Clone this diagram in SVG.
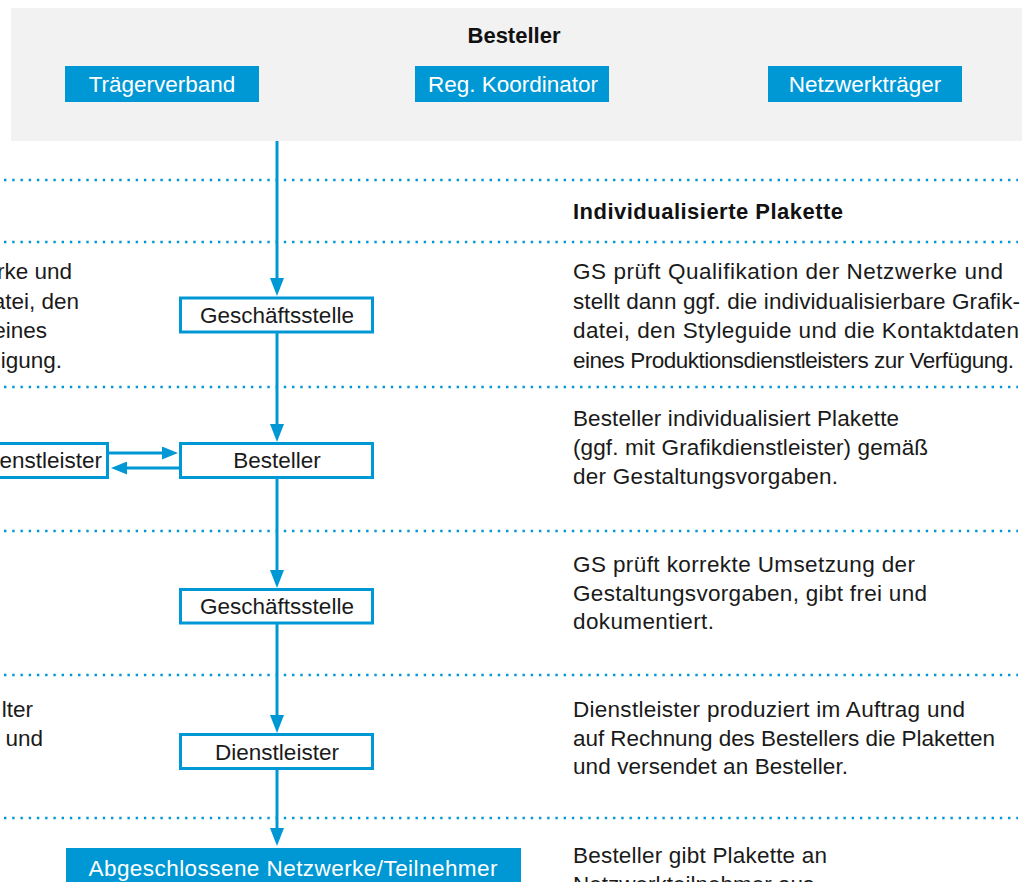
<svg xmlns="http://www.w3.org/2000/svg" width="1022" height="882" viewBox="0 0 1022 882">
<style>
  .t{font-family:"Liberation Sans",Arial,sans-serif;fill:#1a1a1a;font-size:22.5px}
  .b{font-family:"Liberation Sans",Arial,sans-serif;fill:#111;font-size:22px;font-weight:bold}
  .lbl{font-family:"Liberation Sans",Arial,sans-serif;fill:#1a1a1a;font-size:22.5px;text-anchor:middle}
  .wl{font-family:"Liberation Sans",Arial,sans-serif;fill:#ffffff;font-size:22.5px;text-anchor:middle}
  .fill{fill:#0098d4}
  .box{fill:#ffffff;stroke:#0098d4;stroke-width:3}
  .conn{stroke:#0098d4;stroke-width:3;fill:none}
  .dot{stroke:#0098d4;stroke-width:2.4;stroke-dasharray:2.4 5.83;fill:none}
  .end{text-anchor:end}
</style>
<defs>
  <marker id="ah" viewBox="0 0 18 14" refX="8" refY="7" markerWidth="18" markerHeight="14" markerUnits="userSpaceOnUse" orient="auto">
    <path d="M0,0 L18,7 L0,14 z" fill="#0098d4"/>
  </marker>
  <marker id="ahs" viewBox="0 0 16 13" refX="7" refY="6.5" markerWidth="16" markerHeight="13" markerUnits="userSpaceOnUse" orient="auto">
    <path d="M0,0 L16,6.5 L0,13 z" fill="#0098d4"/>
  </marker>
</defs>

<g id="header">
  <rect x="11" y="8" width="1020" height="133" fill="#f2f2f2"/>
  <text class="b" x="514" y="43" text-anchor="middle">Besteller</text>
</g>
<g id="traegerverband">
  <rect class="fill" x="65" y="66" width="194" height="36"/>
  <text class="wl" x="162" y="92">Trägerverband</text>
</g>
<g id="reg-koordinator">
  <rect class="fill" x="415" y="66" width="194" height="36"/>
  <text class="wl" x="513" y="92">Reg. Koordinator</text>
</g>
<g id="netzwerktraeger">
  <rect class="fill" x="768" y="66" width="194" height="36"/>
  <text class="wl" x="865" y="92">Netzwerkträger</text>
</g>

<g id="separators">
  <line class="dot" x1="4" y1="180" x2="1018" y2="180"/>
  <line class="dot" x1="4" y1="242" x2="1018" y2="242"/>
  <line class="dot" x1="4" y1="387" x2="1018" y2="387"/>
  <line class="dot" x1="4" y1="531" x2="1018" y2="531"/>
  <line class="dot" x1="4" y1="675" x2="1018" y2="675"/>
  <line class="dot" x1="4" y1="818" x2="1018" y2="818"/>
</g>

<g id="connectors">
  <line class="conn" x1="277" y1="141" x2="277" y2="286" marker-end="url(#ah)"/>
  <line class="conn" x1="277" y1="333" x2="277" y2="432" marker-end="url(#ah)"/>
  <line class="conn" x1="277" y1="479" x2="277" y2="578" marker-end="url(#ah)"/>
  <line class="conn" x1="277" y1="624" x2="277" y2="723" marker-end="url(#ah)"/>
  <line class="conn" x1="277" y1="770" x2="277" y2="836" marker-end="url(#ah)"/>
  <line class="conn" x1="109" y1="453" x2="169" y2="453" marker-end="url(#ahs)"/>
  <line class="conn" x1="179" y1="468" x2="120" y2="468" marker-end="url(#ahs)"/>
</g>

<g id="geschaeftsstelle-1">
  <rect class="box" x="180.5" y="298" width="192" height="34"/>
  <text class="lbl" x="277" y="323">Geschäftsstelle</text>
</g>
<g id="besteller">
  <rect class="box" x="180.5" y="443.5" width="192" height="34"/>
  <text class="lbl" x="277" y="468">Besteller</text>
</g>
<g id="grafikdienstleister">
  <rect class="box" x="-100" y="443.5" width="207.5" height="34"/>
  <text class="lbl end" x="102" y="468" style="text-anchor:end">enstleister</text>
</g>
<g id="geschaeftsstelle-2">
  <rect class="box" x="180.5" y="589.5" width="192" height="33.5"/>
  <text class="lbl" x="277" y="614">Geschäftsstelle</text>
</g>
<g id="dienstleister">
  <rect class="box" x="180.5" y="734.5" width="192" height="34"/>
  <text class="lbl" x="277" y="760">Dienstleister</text>
</g>
<g id="abgeschlossene">
  <rect class="fill" x="66" y="848" width="455" height="40"/>
  <text class="wl" x="293" y="876" textLength="409" lengthAdjust="spacing">Abgeschlossene Netzwerke/Teilnehmer</text>
</g>

<g id="left-column">
  <text class="t end" x="72" y="279">rke und</text>
  <text class="t end" x="79" y="308.5">atei, den</text>
  <text class="t end" x="47" y="338">eines</text>
  <text class="t end" x="62" y="367.5">igung.</text>
  <text class="t end" x="33" y="717">lter</text>
  <text class="t end" x="43" y="745.5">und</text>
</g>

<g id="right-column">
  <text class="b" x="573" y="219" textLength="270" lengthAdjust="spacing">Individualisierte Plakette</text>
  <text class="t" x="573" y="279" textLength="430" lengthAdjust="spacing">GS prüft Qualifikation der Netzwerke und</text>
  <text class="t" x="573" y="308.5" textLength="447" lengthAdjust="spacing">stellt dann ggf. die individualisierbare Grafik-</text>
  <text class="t" x="573" y="338" textLength="446" lengthAdjust="spacing">datei, den Styleguide und die Kontaktdaten</text>
  <text class="t" x="573" y="367.5" textLength="441" lengthAdjust="spacing">eines Produktionsdienstleisters zur Verfügung.</text>

  <text class="t" x="573" y="426" textLength="326" lengthAdjust="spacing">Besteller individualisiert Plakette</text>
  <text class="t" x="573" y="455" textLength="355" lengthAdjust="spacing">(ggf. mit Grafikdienstleister) gemäß</text>
  <text class="t" x="573" y="483.5" textLength="265" lengthAdjust="spacing">der Gestaltungsvorgaben.</text>

  <text class="t" x="573" y="572" textLength="342" lengthAdjust="spacing">GS prüft korrekte Umsetzung der</text>
  <text class="t" x="573" y="600.5" textLength="354" lengthAdjust="spacing">Gestaltungsvorgaben, gibt frei und</text>
  <text class="t" x="573" y="629" textLength="141" lengthAdjust="spacing">dokumentiert.</text>

  <text class="t" x="573" y="717" textLength="392" lengthAdjust="spacing">Dienstleister produziert im Auftrag und</text>
  <text class="t" x="573" y="745.5" textLength="422" lengthAdjust="spacing">auf Rechnung des Bestellers die Plaketten</text>
  <text class="t" x="573" y="774" textLength="275" lengthAdjust="spacing">und versendet an Besteller.</text>

  <text class="t" x="573" y="863" textLength="254" lengthAdjust="spacing">Besteller gibt Plakette an</text>
  <text class="t" x="573" y="891.5">Netzwerkteilnehmer aus</text>
</g>
</svg>
